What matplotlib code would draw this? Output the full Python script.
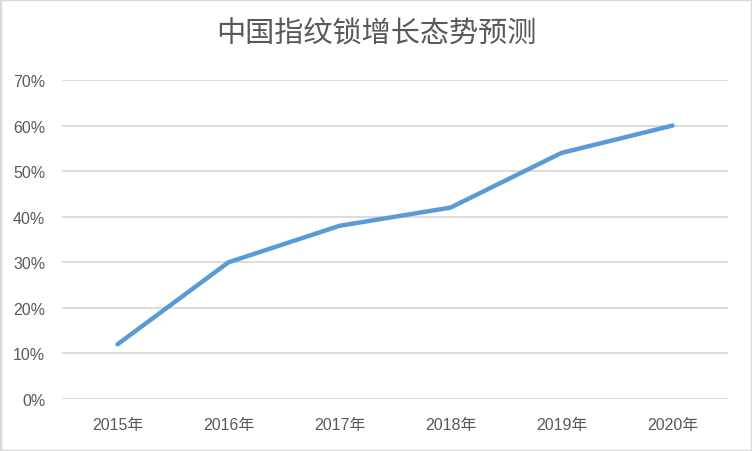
import matplotlib
matplotlib.use("Agg")
import matplotlib.pyplot as plt
from matplotlib.ticker import PercentFormatter
from matplotlib.patches import Rectangle

plt.rcParams["font.family"] = ["Liberation Sans", "Noto Sans CJK SC"]

years = ["2015年", "2016年", "2017年", "2018年", "2019年", "2020年"]
growth = [12, 30, 38, 42, 54, 60]
yticks = [0, 10, 20, 30, 40, 50, 60, 70]

fig = plt.figure(figsize=(7.52, 4.52), dpi=100)
ax = fig.add_axes([62 / 752, 1 - 400 / 452, 666 / 752, 319 / 452])

x = list(range(len(years)))
ax.plot(x, growth, color="#5B9BD5", linewidth=3.2, solid_capstyle="round",
        solid_joinstyle="round", zorder=3)

ax.set_xlim(-0.5, len(years) - 0.5)
ax.set_ylim(0, 70)
ax.set_yticks(yticks)
ax.yaxis.set_major_formatter(PercentFormatter(decimals=0))
ax.set_xticks(x)
ax.set_xticklabels(years)
ax.grid(axis="y", color="#D9D9D9", linewidth=1.3)
ax.set_axisbelow(True)
for s in ax.spines.values():
    s.set_visible(False)
ax.tick_params(length=0, labelsize=11.5, labelcolor="#595959")
ax.tick_params(axis="x", pad=13)
ax.tick_params(axis="y", pad=12)

fig.text(0.5, 1 - 35 / 452, "中国指纹锁增长态势预测", ha="center", va="center",
         fontsize=21, color="#595959", family=["Noto Sans CJK SC"])

fig.patches.append(Rectangle((0, 0), 1, 1, transform=fig.transFigure,
                             fill=False, edgecolor="#D9D9D9", linewidth=2.5))

fig.savefig("out.png", dpi=100)
